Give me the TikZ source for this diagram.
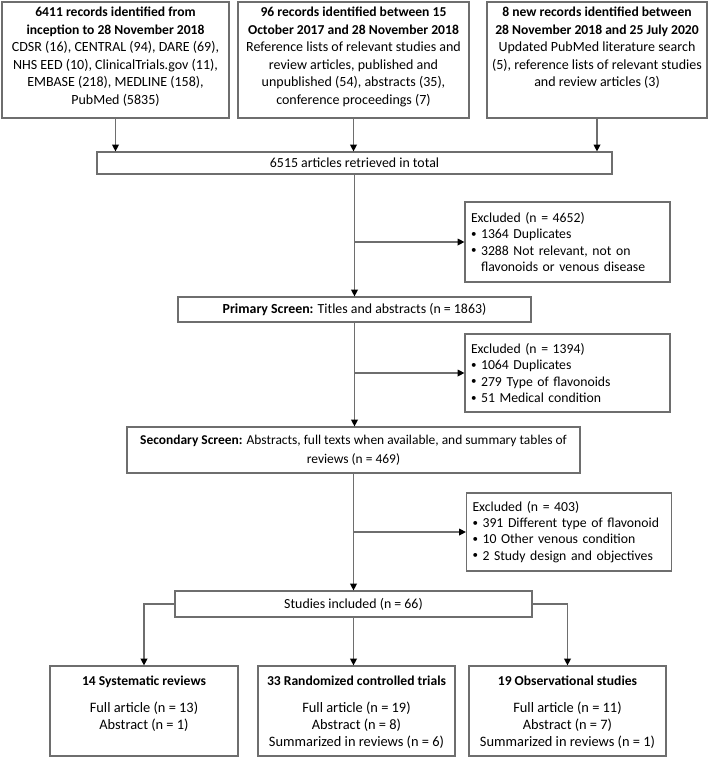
\documentclass[tikz,border=0pt]{standalone}
\usepackage{fontspec}
\setmainfont{Carlito}
\usetikzlibrary{arrows.meta}
\definecolor{linegray}{RGB}{110,110,110}

\tikzstyle{srcbox} = [draw=linegray, line width=0.9pt, rectangle, inner sep=0pt, minimum height=87pt,
    font=\fontsize{10.5pt}{13.1pt}\selectfont]
\tikzstyle{stepbox} = [draw=linegray, line width=0.9pt, rectangle, inner sep=0pt, align=center]
\tikzstyle{exclbox} = [draw=linegray, line width=0.9pt, rectangle, inner xsep=4.5pt, inner ysep=4pt,
    text width=144.75pt, align=left, font=\fontsize{10.3pt}{12.1pt}\selectfont]
\tikzstyle{studybox} = [draw=linegray, line width=0.9pt, rectangle, inner sep=0pt, minimum height=67.5pt,
    font=\fontsize{10.8pt}{12.8pt}\selectfont]
\tikzstyle{arr} = [draw=linegray, line width=0.9pt, -{Triangle[length=5pt,width=5pt,color=black]}]
\newcommand{\headline}[1]{{\fontsize{10.2pt}{13.1pt}\selectfont\textbf{#1}}}
\newcommand{\bul}{\raisebox{0.08em}{\scalebox{0.8}{\textbullet}}\ }

\begin{document}
\begin{tikzpicture}[x=0.75pt, y=-0.75pt, font=\fontsize{10.4pt}{13pt}\selectfont]
\useasboundingbox (0,0) rectangle (709,758);

% record sources
\node[srcbox, minimum width=170.25pt] (srcA) at (115.5,60) {\parbox[t][79pt][t]{168pt}{\centering
    \headline{6411 records identified from}\\ \headline{inception to 28 November 2018}\\
    CDSR (16), CENTRAL (94), DARE (69),\\ NHS EED (10), ClinicalTrials.gov (11),\\
    EMBASE (218), MEDLINE (158),\\ PubMed (5835)}};
\node[srcbox, minimum width=173.25pt] (srcB) at (353.5,60) {\parbox[t][79pt][t]{171pt}{\centering
    \headline{96 records identified between 15}\\ \headline{October 2017 and 28 November 2018}\\
    Reference lists of relevant studies and\\ review articles, published and\\
    unpublished (54), abstracts (35),\\ conference proceedings (7)}};
\node[srcbox, minimum width=165pt] (srcC) at (597,60) {\parbox[t][79pt][t]{164pt}{\centering
    \headline{8 new records identified between}\\ \headline{28 November 2018 and 25 July 2020}\\
    Updated PubMed literature search\\ (5), reference lists of relevant studies\\
    and review articles (3)}};

% screening steps
\node[stepbox, minimum width=386.25pt, minimum height=16.5pt] (total) at (354.5,163)
    {6515 articles retrieved in total};
\node[exclbox, minimum height=60pt] (excl1) at (567.5,242) {Excluded (n = 4652)\\
    \bul 1364 Duplicates\\ \bul 3288 Not relevant, not on\\
    \hphantom{\bul}flavonoids or venous disease};
\node[stepbox, minimum width=264.75pt, minimum height=18.75pt] (primary) at (354.5,309.5)
    {\textbf{Primary Screen:} Titles and abstracts (n = 1863)};
\node[exclbox, minimum height=58.5pt] (excl2) at (567.5,373) {Excluded (n = 1394)\\
    \bul 1064 Duplicates\\ \bul 279 Type of flavonoids\\
    \bul 51 Medical condition};
\node[stepbox, minimum width=339.75pt, minimum height=34.5pt, font=\fontsize{10.1pt}{14pt}\selectfont]
    (secondary) at (353.5,450)
    {\textbf{Secondary Screen:} Abstracts, full texts when available, and summary tables of\\ reviews (n = 469)};
\node[exclbox, minimum height=58.5pt] (excl3) at (569,532) {Excluded (n = 403)\\
    \bul 391 Different type of flavonoid\\ \bul 10 Other venous condition\\
    \bul 2 Study design and objectives};
\node[stepbox, minimum width=267.75pt, minimum height=19.5pt] (included) at (353.5,604)
    {Studies included (n = 66)};

% included study types
\node[studybox, minimum width=141pt] (sysrev) at (144,711) {\parbox[t][52pt][t]{140pt}{\centering
    \headline{14 Systematic reviews}\\[7pt] Full article (n = 13)\\ Abstract (n = 1)}};
\node[studybox, minimum width=147.75pt] (rct) at (356.5,711) {\parbox[t][52pt][t]{146pt}{\centering
    \headline{33 Randomized controlled trials}\\[7pt] Full article (n = 19)\\ Abstract (n = 8)\\ Summarized in reviews (n = 6)}};
\node[studybox, minimum width=147.75pt] (obs) at (567.5,711) {\parbox[t][52pt][t]{146pt}{\centering
    \headline{19 Observational studies}\\[7pt] Full article (n = 11)\\ Abstract (n = 7)\\ Summarized in reviews (n = 1)}};

% connectors
\draw[arr] (srcA.south) -- (srcA.south |- total.north);
\draw[arr] (srcB.south) -- (srcB.south |- total.north);
\draw[arr] (srcC.south) -- (srcC.south |- total.north);
\draw[arr] (total.south) -- (total.south |- primary.north);
\draw[arr] (total.south |- excl1.west) -- (excl1.west);
\draw[arr] (primary.south) -- (primary.south |- secondary.north);
\draw[arr] (primary.south |- excl2.west) -- (excl2.west);
\draw[arr] (secondary.south) -- (secondary.south |- included.north);
\draw[arr] (secondary.south |- excl3.west) -- (excl3.west);
\draw[arr] (included.west) -| (sysrev.north);
\draw[arr] (included.south) -- (included.south |- rct.north);
\draw[arr] (included.east) -| (obs.north);
\end{tikzpicture}
\end{document}
